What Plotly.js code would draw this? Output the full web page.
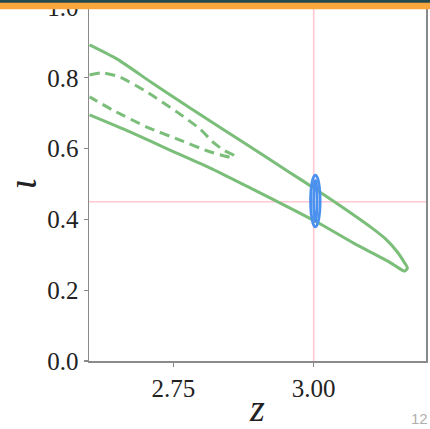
<!DOCTYPE html>
<html>
<head>
<meta charset="utf-8">
<script src="https://cdn.plot.ly/plotly-3.0.1.min.js"></script>
<style>
html,body{margin:0;padding:0;background:#fff;overflow:hidden;}
#chart{width:430px;height:429px;}
</style>
</head>
<body>
<div id="chart"></div>
<script>
// Solid contour (outer): upper branch -> tip -> lower branch
const solidZ = [2.601, 2.651, 2.712, 2.780, 2.887, 2.958, 3.000, 3.048, 3.101, 3.128, 3.149, 3.162, 3.167, 3.162, 3.151, 3.132, 3.071, 3.012, 2.958, 2.887, 2.816, 2.744, 2.673, 2.601];
const solidI = [0.893, 0.852, 0.786, 0.715, 0.605, 0.532, 0.489, 0.438, 0.379, 0.345, 0.308, 0.277, 0.263, 0.254, 0.263, 0.282, 0.333, 0.387, 0.432, 0.489, 0.545, 0.596, 0.647, 0.695];
// Dashed contour (inner)
const dashZ = [2.601, 2.624, 2.655, 2.703, 2.757, 2.798, 2.819, 2.839, 2.855, 2.859, 2.852, 2.839, 2.810, 2.762, 2.703, 2.642, 2.601];
const dashI = [0.808, 0.814, 0.802, 0.760, 0.703, 0.655, 0.621, 0.596, 0.584, 0.579, 0.576, 0.580, 0.594, 0.624, 0.661, 0.709, 0.746];
// Blue ellipses: centre, half-widths
const ellCenter = [3.003, 0.452];
const ellHalfZ = [0.0085, 0.003];
const ellHalfI = [0.073, 0.058];
// Reference (true) values
const trueZ = 3.0;
const trueI = 0.45;
// Ticks
const xTicks = [2.75, 3.00];
const xTickText = ['2.75', '3.00'];
const yTicks = [0.0, 0.2, 0.4, 0.6, 0.8, 1.0];
const yTickText = ['0.0', '0.2', '0.4', '0.6', '0.8', '1.0'];

const green = 'rgb(122,190,122)';
const blue = 'rgb(74,144,238)';
const pink = 'rgb(255,200,210)';
const serif = '"Liberation Serif", "DejaVu Serif", serif';

const traces = [
  {x: solidZ, y: solidI, mode: 'lines', line: {color: green, width: 3, shape: 'spline', smoothing: 0.6}, hoverinfo: 'skip', showlegend: false},
  {x: dashZ, y: dashI, mode: 'lines', line: {color: green, width: 3, dash: '10px,6px', shape: 'spline', smoothing: 0.6}, hoverinfo: 'skip', showlegend: false}
];

const shapes = [
  {type: 'line', xref: 'x', yref: 'paper', x0: trueZ, x1: trueZ, y0: 0, y1: 1, line: {color: pink, width: 1.6}, layer: 'below'},
  {type: 'line', xref: 'paper', yref: 'y', x0: 0, x1: 1, y0: trueI, y1: trueI, line: {color: pink, width: 1.6}, layer: 'below'}
];
ellHalfZ.forEach((hz, k) => {
  shapes.push({type: 'circle', xref: 'x', yref: 'y',
    x0: ellCenter[0] - hz, x1: ellCenter[0] + hz,
    y0: ellCenter[1] - ellHalfI[k], y1: ellCenter[1] + ellHalfI[k],
    line: {color: blue, width: 2.8}, layer: 'above'});
});
// slide header bar (orange with dark strip)
shapes.push({type: 'rect', xref: 'paper', yref: 'paper', x0: -0.3, x1: 1.05, y0: 0.9935, y1: 1.03, fillcolor: 'rgb(250,168,62)', line: {width: 0}, layer: 'above'});
shapes.push({type: 'rect', xref: 'paper', yref: 'paper', x0: -0.3, x1: 1.05, y0: 1.0122, y1: 1.03, fillcolor: 'rgb(36,72,78)', line: {width: 0}, layer: 'above'});

const tickFont = {family: serif, size: 25, color: '#222'};

const layout = {
  width: 430, height: 429,
  margin: {l: 89, r: 4, t: 7, b: 68},
  paper_bgcolor: '#fff', plot_bgcolor: '#fff',
  showlegend: false,
  xaxis: {
    range: [2.6, 3.2], tickvals: xTicks, ticktext: xTickText,
    showgrid: false, zeroline: false,
    showline: true, linecolor: '#8a8a8a', linewidth: 1.5, mirror: true,
    ticks: 'outside', ticklen: 4, tickwidth: 1.3, tickcolor: '#8a8a8a',
    tickfont: tickFont,
    title: {text: '<i>z</i>', font: {family: serif, size: 38, color: '#222'}, standoff: 13}
  },
  yaxis: {
    range: [0, 1], tickvals: yTicks, ticktext: yTickText,
    showgrid: false, zeroline: false,
    showline: true, linecolor: '#8a8a8a', linewidth: 1.5, mirror: true,
    ticks: 'outside', ticklen: 4, tickwidth: 1.3, tickcolor: '#8a8a8a',
    tickfont: tickFont, ticklabeloverflow: 'allow',
    title: {text: '<i>ι</i>', font: {family: serif, size: 40, color: '#222'}, standoff: 12}
  },
  shapes: shapes,
  annotations: [
    {text: '12', xref: 'paper', yref: 'paper', x: 1.0119, y: -0.192, xanchor: 'right', yanchor: 'bottom', showarrow: false,
     font: {family: '"Liberation Sans", sans-serif', size: 15, color: '#b0b0b0'}}
  ]
};

Plotly.newPlot('chart', traces, layout, {staticPlot: true, displayModeBar: false});
</script>
</body>
</html>
